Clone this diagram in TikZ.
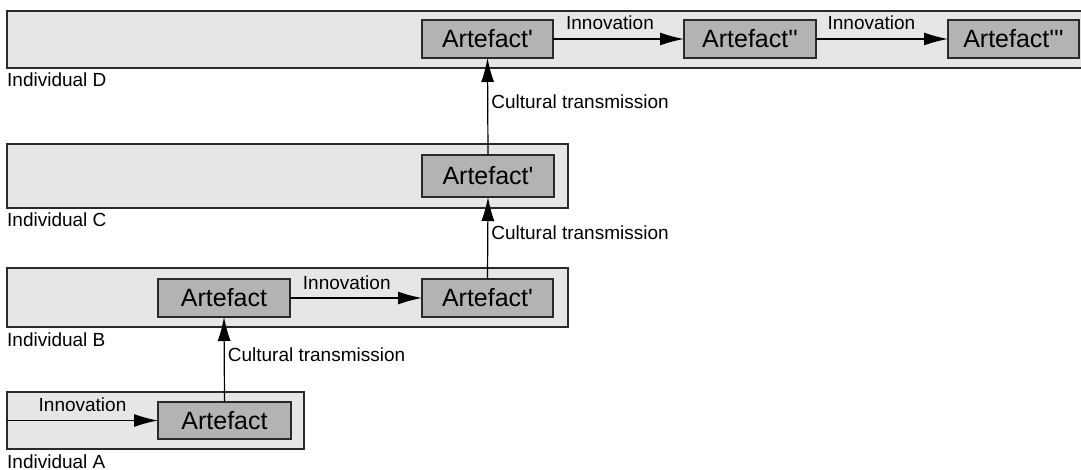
\documentclass[tikz,border=0pt]{standalone}
\usepackage{fontspec}
\setmainfont{Liberation Sans}
\usetikzlibrary{arrows.meta}
\definecolor{panelfill}{HTML}{E6E6E6}
\definecolor{boxfill}{HTML}{B3B3B3}
\definecolor{edge}{HTML}{2A2A2A}
\newcommand{\pr}{\textquotesingle}
\begin{document}
\begin{tikzpicture}[x=1pt,y=-1pt,
  panel/.style={draw=edge,fill=panelfill,line width=1.3pt,anchor=north west,
    inner sep=0pt,outer sep=0pt},
  artefact/.style={draw=edge,fill=boxfill,line width=1.1pt,anchor=north west,
    inner sep=0pt,outer sep=0pt,font=\fontsize{25}{30}\selectfont},
  who/.style={anchor=base west,inner sep=0pt,font=\fontsize{19}{23}\selectfont},
  arr/.style={draw=black,line width=1.2pt,-{Latex[length=24pt,width=13pt]}},
  innov/.style={anchor=base,inner sep=0pt,yshift=9pt,font=\fontsize{19}{23}\selectfont},
  cult/.style={anchor=base west,inner sep=0pt,xshift=3pt,yshift=-2pt,
    font=\fontsize{19}{23}\selectfont}]
\useasboundingbox (0,0) rectangle (1081,470);

% individuals
\node[panel,minimum width=1076pt,minimum height=57pt] (pD) at (7,11) {};
\node[panel,minimum width=561pt,minimum height=64pt] (pC) at (7,144) {};
\node[panel,minimum width=561pt,minimum height=59pt] (pB) at (7,268) {};
\node[panel,minimum width=297pt,minimum height=57pt] (pA) at (7,392) {};

\node[who] (lD) at (7,87) {Individual D};
\node[who] (lC) at (7,227) {Individual C};
\node[who] (lB) at (7,346) {Individual B};
\node[who] (lA) at (7,468) {Individual A};

% artefacts
\node[artefact,minimum width=133pt,minimum height=37pt] (aA) at (158,402) {Artefact};
\node[artefact,minimum width=132pt,minimum height=38pt] (b1) at (158,279) {Artefact};
\node[artefact,minimum width=131pt,minimum height=38pt] (b2) at (422,279) {Artefact\pr};
\node[artefact,minimum width=132pt,minimum height=42pt] (c1) at (422,155) {Artefact\pr};
\node[artefact,minimum width=131pt,minimum height=38pt] (d1) at (422,20) {Artefact\pr};
\node[artefact,minimum width=132pt,minimum height=38pt] (d2) at (684,20) {Artefact\pr\pr};
\node[artefact,minimum width=131pt,minimum height=38pt] (d3) at (948,20) {Artefact\pr\pr\pr};

% innovations
\draw[arr] (pA.west |- aA.west) -- node[innov,pos=0.5] (iA) {Innovation} (aA.west);
\draw[arr] (b1.east) -- node[innov,pos=0.43] (iB) {Innovation} (b2.west);
\draw[arr] (d1.east) -- node[innov,pos=0.435] (iD1) {Innovation} (d2.west);
\draw[arr] (d2.east) -- node[innov,pos=0.42] (iD2) {Innovation} (d3.west);

% cultural transmission
\draw[arr] (aA.north) -- node[cult] (tAB) {Cultural transmission} (b1.south);
\draw[arr] (b2.north) -- node[cult] (tBC) {Cultural transmission} (c1.south);
\draw[arr] (c1.north) -- node[cult] (tCD) {Cultural transmission} (d1.south);
\end{tikzpicture}
\end{document}
